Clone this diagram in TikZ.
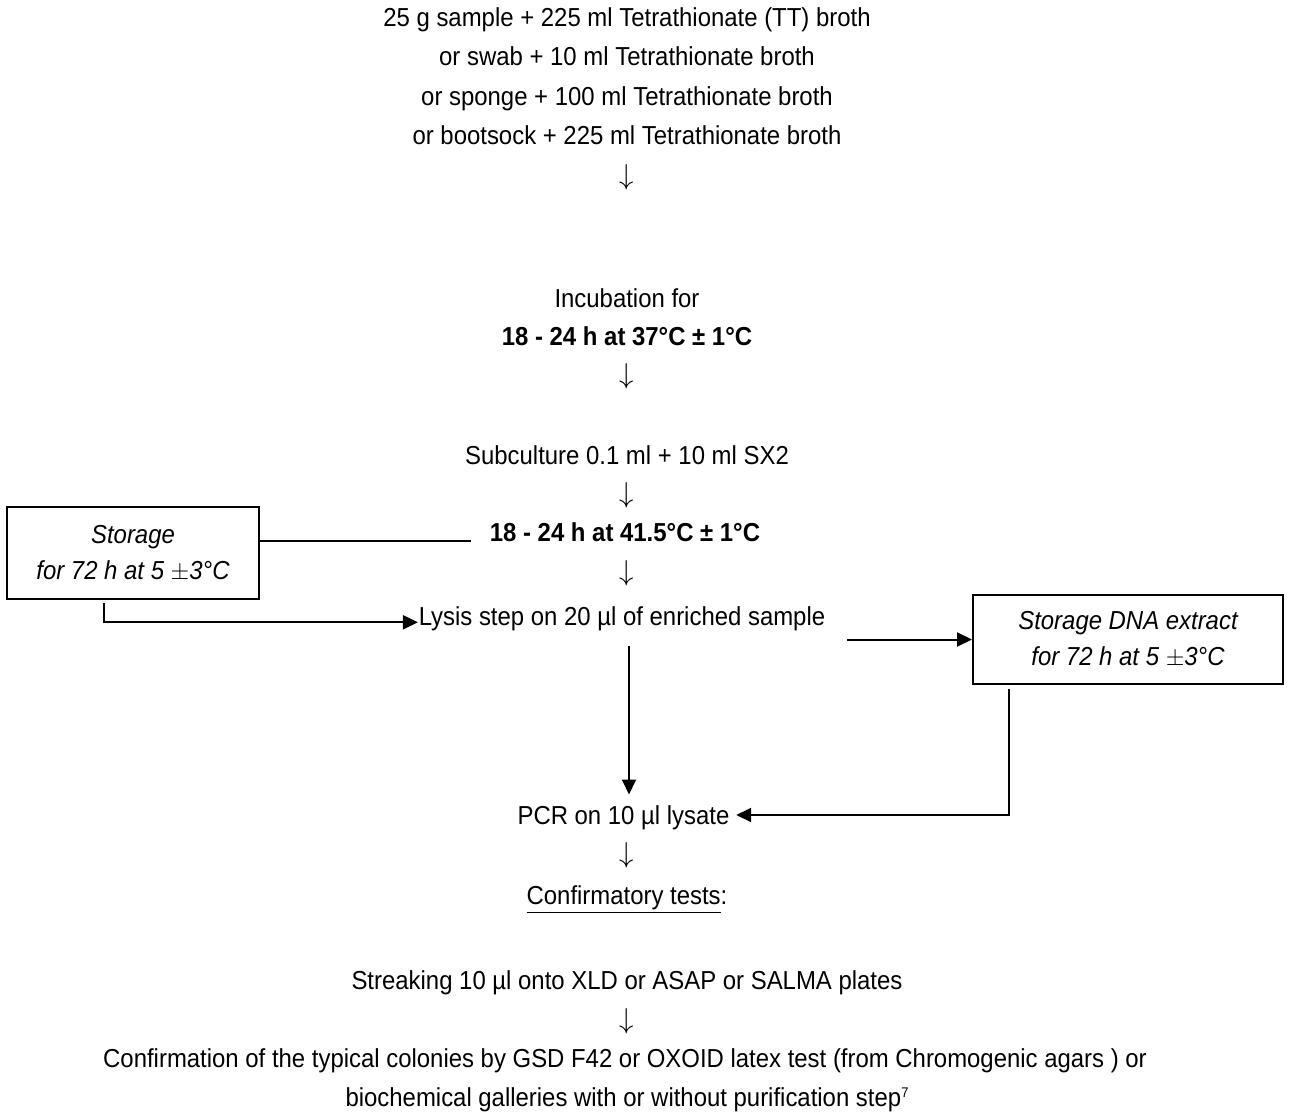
\documentclass[tikz,border=0pt]{standalone}
\usepackage{fontspec}
\setmainfont{Liberation Sans}[FakeStretch=0.92]
\usetikzlibrary{arrows.meta}

\newcommand{\dnarrow}{\fontsize{14}{18}\selectfont$\downarrow$}

\begin{document}
\begin{tikzpicture}[x=0.5pt, y=-0.5pt, thick]

    \tikzset{txt/.style={%
      inner sep=0pt,%
      font=\fontsize{13}{18}\selectfont,%
      text height=11pt,%
      text depth=1.7pt}%
    };

    \tikzset{boldtxt/.style={txt, font=\fontsize{13}{18}\selectfont\bfseries}};

    \tikzset{storebox/.style={%
      draw,%
      line width=1pt,%
      inner sep=0pt,%
      align=center,%
      font=\fontsize{13}{18}\selectfont\itshape}%
    };

    \tikzset{link/.style={line width=1pt}};
    \tikzset{arr/.style={link, -{Triangle[length=7.5pt, width=7pt]}}};

    \useasboundingbox (0, 0) rectangle (1291, 1113);

    %%%%%%%%%%%%%%
    % enrichment %
    %%%%%%%%%%%%%%
    \node [txt] (tt) at (627, 17) {25 g sample + 225 ml Tetrathionate (TT) broth};
    \node [txt] (swab) at (627, 56) {or swab + 10 ml Tetrathionate broth};
    \node [txt] (sponge) at (627, 96) {or sponge + 100 ml Tetrathionate broth};
    \node [txt] (sock) at (627, 135) {or bootsock + 225 ml Tetrathionate broth};
    \node [txt] (down1) at (627, 175) {\dnarrow};

    \node [txt] (incub) at (627, 298) {Incubation for};
    \node [boldtxt] (temp37) at (627, 336) {18 - 24 h at 37°C ± 1°C};
    \node [txt] (down2) at (627, 374) {\dnarrow};

    \node [txt] (sub) at (627, 455) {Subculture 0.1 ml + 10 ml SX2};
    \node [txt] (down3) at (627, 493) {\dnarrow};
    \node [boldtxt] (temp41) at (625, 532) {18 - 24 h at 41.5°C ± 1°C};
    \node [txt] (down4) at (627, 571) {\dnarrow};

    \node [txt] (lysis) at (622, 616) {Lysis step on 20 µl of enriched sample};

    %%%%%%%%%%%
    % storage %
    %%%%%%%%%%%
    \node [storebox, minimum width=126pt, minimum height=46pt] (store)
      at (133, 553) {Storage\\for 72 h at 5 $\pm$3°C};

    \node [storebox, minimum width=155pt, minimum height=44.5pt] (dna)
      at (1128, 639.5) {Storage DNA extract\\for 72 h at 5 $\pm$3°C};

    %%%%%%%%%%%%%%%%
    % confirmation %
    %%%%%%%%%%%%%%%%
    \node [txt] (pcr) at (623.5, 815) {PCR on 10 µl lysate};
    \node [txt] (down5) at (627, 853) {\dnarrow};
    \node [txt] (conf) at (627, 895) {\underline{Confirmatory tests}:};

    \node [txt] (streak) at (627, 980) {Streaking 10 µl onto XLD or ASAP or SALMA plates};
    \node [txt] (down6) at (627, 1019) {\dnarrow};
    \node [txt] (colon1) at (625, 1058) {Confirmation of the typical colonies by GSD F42 or OXOID latex test (from Chromogenic agars ) or};
    \node [txt] (colon2) at (627, 1097) {biochemical galleries with or without purification step\raisebox{4.5pt}{\fontsize{7}{8}\selectfont 7}};

    \draw [link] (store.east |- temp41.base) -- ([xshift=-9pt]temp41.base west);
    \draw [arr] ([xshift=-14.5pt, yshift=-1.5pt]store.south) |- ([yshift=1.5pt]lysis.base west);
    \draw [arr] ([xshift=10.5pt]lysis.east |- dna.west) -- (dna.west);
    \draw [arr] ([xshift=3.5pt, yshift=-8pt]lysis.south) -- ++(0, 149);
    \draw [arr] ([xshift=-59.5pt, yshift=-2pt]dna.south) |- ([xshift=3pt]pcr.east);

  \end{tikzpicture}
\end{document}
